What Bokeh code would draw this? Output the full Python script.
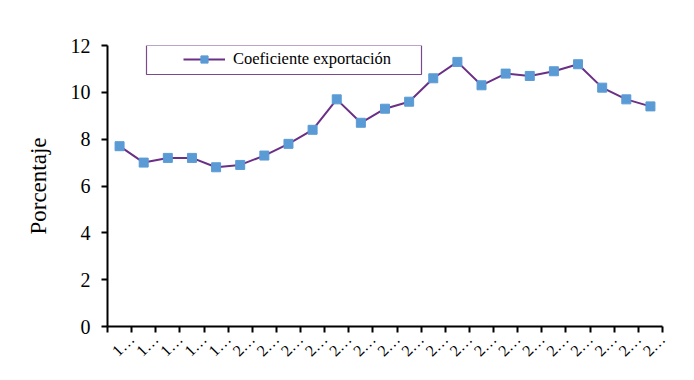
import math
from bokeh.plotting import figure
from bokeh.models import Range1d, FixedTicker, Legend, LegendItem, BoxAnnotation
from bokeh.embed import file_html
from bokeh.resources import INLINE

years = list(range(1995, 2018))
tick_labels = [str(y)[0] + "\u2026" for y in years]
coef_export = [7.7, 7.0, 7.2, 7.2, 6.8, 6.9, 7.3, 7.8, 8.4, 9.7, 8.7, 9.3,
               9.6, 10.6, 11.3, 10.3, 10.8, 10.7, 10.9, 11.2, 10.2, 9.7, 9.4]
y_ticks = [0, 2, 4, 6, 8, 10, 12]
series_name = "Coeficiente exportación"

FONT = "Liberation Serif"
LINE_COLOR = "#6B2F86"
MARKER_COLOR = "#5B9BD5"

xs = list(range(len(years)))

p = figure(width=678, height=372, output_backend="svg", toolbar_location=None,
           x_range=Range1d(-0.5, len(years) - 0.5), y_range=Range1d(0, 12),
           min_border_left=107, min_border_top=45, min_border_right=16, min_border_bottom=46)
p.outline_line_color = None
p.xgrid.visible = False
p.ygrid.visible = False
p.background_fill_color = "white"
p.border_fill_color = "white"

# legend frame (decoration, screen units relative to the plot frame)
box = BoxAnnotation(left=39, right=314, top=281, bottom=252,
                    left_units="screen", right_units="screen",
                    top_units="screen", bottom_units="screen",
                    fill_color="white", fill_alpha=1.0,
                    line_color="#7B4A8E", line_alpha=1.0, line_width=1.2)
p.add_layout(box)

ln = p.line(xs, coef_export, line_color=LINE_COLOR, line_width=2)
sq = p.scatter(xs, coef_export, marker="square", size=9, fill_color=MARKER_COLOR,
               line_color=MARKER_COLOR)

# x axis: ticks on category boundaries, each label anchored at its right boundary
bounds = [i - 0.5 for i in range(len(years) + 1)]
xa = p.xaxis[0]
xa.ticker = FixedTicker(ticks=bounds, minor_ticks=[])
overrides = {bounds[0]: ""}
for i, lab in enumerate(tick_labels):
    overrides[bounds[i + 1]] = lab
xa.major_label_overrides = overrides
xa.major_label_orientation = math.pi / 4
xa.major_tick_out = 6
xa.major_tick_in = 0
xa.major_tick_line_color = "black"
xa.major_tick_line_width = 2
xa.minor_tick_line_color = None
xa.axis_line_color = "black"
xa.axis_line_width = 2
xa.major_label_text_font = FONT
xa.major_label_text_font_size = "16px"
xa.major_label_text_color = "black"
xa.major_label_standoff = 4

# y axis
ya = p.yaxis[0]
ya.ticker = FixedTicker(ticks=y_ticks)
ya.minor_tick_line_color = None
ya.major_tick_out = 6
ya.major_tick_in = 0
ya.major_tick_line_color = "black"
ya.major_tick_line_width = 2
ya.axis_line_color = "black"
ya.axis_line_width = 2
ya.major_label_text_font = FONT
ya.major_label_text_font_size = "20px"
ya.major_label_text_color = "black"
ya.major_label_standoff = 11
ya.axis_label = "Porcentaje"
ya.axis_label_text_font = FONT
ya.axis_label_text_font_size = "23px"
ya.axis_label_text_font_style = "normal"
ya.axis_label_text_color = "black"
ya.axis_label_standoff = 17

legend = Legend(items=[LegendItem(label=series_name, renderers=[ln, sq])],
                location=(71, 252), orientation="vertical",
                glyph_width=42, glyph_height=18, label_standoff=8,
                padding=5, spacing=0, margin=0,
                label_text_font=FONT, label_text_font_size="16.5px",
                label_text_color="black",
                border_line_alpha=0, background_fill_alpha=0)
p.add_layout(legend, "center")

open("out.html", "w").write(file_html(p, INLINE))
